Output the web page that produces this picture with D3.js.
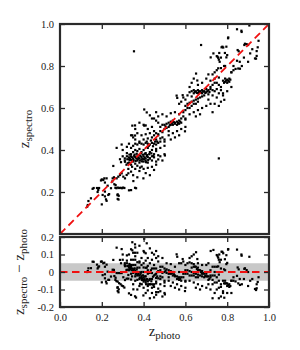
<!DOCTYPE html>
<html>
<head>
<meta charset="utf-8">
<script src="https://cdn.jsdelivr.net/npm/d3@7"></script>
<style>
  body { margin: 0; background: #fff; }
  svg text { font-family: "Liberation Serif", "Times New Roman", "DejaVu Serif", serif !important; fill: #222; }
</style>
</head>
<body>
<div id="chart"></div>
<script>
// [z_photo, z_spectro] pairs
const points = [
  // low-z tail
  [0.13,0.13],[0.133,0.138],[0.148,0.17],[0.161,0.219],[0.177,0.219],[0.187,0.219],[0.2,0.26],[0.212,0.265],
  [0.223,0.265],[0.204,0.186],[0.2,0.141],[0.22,0.165],[0.231,0.186],[0.235,0.19],[0.244,0.218],[0.252,0.265],
  [0.258,0.27],[0.271,0.265],[0.279,0.273],[0.26,0.237],[0.266,0.233],[0.27,0.218],[0.276,0.221],[0.283,0.219],
  [0.29,0.22],[0.296,0.218],[0.302,0.221],[0.308,0.219],[0.276,0.189],[0.281,0.182],[0.276,0.167],[0.287,0.281],
  [0.295,0.289],[0.303,0.273],[0.311,0.265],[0.319,0.281],[0.327,0.289],[0.359,0.22],[0.364,0.218],[0.399,0.265],
  [0.351,0.252],[0.383,0.316],[0.391,0.321],[0.327,0.31],[0.34,0.297],[0.255,0.324],[0.311,0.344],[0.324,0.337],
  [0.335,0.352],[0.18,0.2],[0.25,0.25],[0.136,0.157],[0.156,0.215],[0.183,0.21],[0.196,0.255],[0.207,0.257],
  [0.215,0.202],[0.215,0.179],[0.223,0.158],[0.215,0.245],[0.228,0.23],[0.271,0.41],[0.295,0.426],[0.265,0.22],
  [0.275,0.185],[0.28,0.164],[0.287,0.356],[0.292,0.342],[0.33,0.208],[0.34,0.209],
  // main clump around z_spectro 0.36
  [0.31,0.36],[0.32,0.37],[0.33,0.365],[0.335,0.36],[0.34,0.37],[0.345,0.365],[0.35,0.36],[0.355,0.372],
  [0.36,0.366],[0.365,0.36],[0.37,0.37],[0.375,0.364],[0.38,0.36],[0.385,0.372],[0.39,0.366],[0.395,0.358],
  [0.40,0.37],[0.405,0.364],[0.41,0.36],[0.415,0.372],[0.42,0.366],[0.43,0.36],[0.44,0.37],
  [0.33,0.34],[0.34,0.33],[0.36,0.335],[0.38,0.34],[0.40,0.345],[0.42,0.34],[0.44,0.35],[0.46,0.345],
  [0.35,0.39],[0.37,0.395],[0.39,0.39],[0.41,0.385],[0.43,0.39],[0.45,0.38],[0.47,0.375],[0.36,0.40],
  [0.38,0.405],[0.40,0.40],[0.42,0.41],[0.44,0.40],[0.46,0.395],[0.34,0.38],[0.32,0.385],[0.30,0.37],
  [0.31,0.35],[0.33,0.355],[0.35,0.345],[0.37,0.35],[0.39,0.355],[0.41,0.35],[0.43,0.36],[0.45,0.365],
  [0.47,0.355],[0.48,0.37],[0.44,0.32],[0.42,0.315],[0.40,0.31],[0.46,0.33],[0.49,0.35],[0.5,0.38],
  [0.36,0.31],[0.38,0.30],[0.41,0.29],[0.43,0.28],[0.45,0.305],[0.35,0.28],[0.37,0.27],[0.34,0.41],
  [0.35,0.42],[0.33,0.43],[0.32,0.415],[0.30,0.40],
  [0.352,0.352],[0.362,0.348],[0.372,0.356],[0.382,0.35],[0.392,0.346],[0.402,0.356],[0.412,0.342],[0.422,0.352],
  [0.357,0.378],[0.367,0.382],[0.377,0.376],[0.387,0.384],[0.397,0.378],[0.407,0.382],[0.417,0.376],[0.427,0.38],
  [0.437,0.384],[0.447,0.372],[0.332,0.378],[0.322,0.356],[0.342,0.352],[0.318,0.33],[0.345,0.32],[0.37,0.325],
  // clump around z_spectro 0.43
  [0.36,0.43],[0.37,0.426],[0.38,0.434],[0.39,0.43],[0.40,0.426],[0.41,0.434],[0.42,0.43],[0.43,0.426],
  [0.44,0.434],[0.45,0.43],[0.46,0.426],[0.47,0.434],
  [0.40,0.45],[0.42,0.455],[0.44,0.46],[0.46,0.45],[0.48,0.44],[0.38,0.44],[0.36,0.45],[0.35,0.46],
  [0.39,0.47],[0.41,0.475],[0.43,0.48],[0.45,0.49],[0.47,0.47],[0.49,0.46],[0.50,0.45],[0.42,0.50],
  [0.44,0.51],[0.40,0.52],[0.38,0.53],[0.36,0.50],[0.37,0.48],[0.34,0.47],[0.48,0.41],[0.50,0.42],
  [0.46,0.405],[0.346,0.516],[0.359,0.517],[0.346,0.47],[0.359,0.469],[0.403,0.516],[0.41,0.517],
  [0.415,0.579],[0.403,0.593],
  [0.415,0.44],[0.435,0.445],[0.455,0.44],[0.425,0.42],[0.445,0.418],[0.465,0.44],
  // 0.45 - 0.6
  [0.45,0.47],[0.46,0.48],[0.47,0.475],[0.48,0.49],[0.49,0.485],[0.50,0.50],[0.51,0.505],[0.52,0.51],
  [0.53,0.52],[0.54,0.52],[0.55,0.53],[0.56,0.535],[0.57,0.54],[0.58,0.55],[0.52,0.53],[0.53,0.535],
  [0.54,0.54],[0.55,0.525],[0.56,0.52],[0.57,0.525],[0.58,0.53],[0.51,0.525],[0.50,0.52],[0.49,0.52],
  [0.48,0.51],[0.47,0.53],[0.46,0.54],[0.45,0.55],[0.47,0.56],[0.49,0.57],[0.51,0.56],[0.53,0.575],
  [0.55,0.58],[0.57,0.57],[0.59,0.56],[0.60,0.545],[0.52,0.47],[0.54,0.48],[0.56,0.49],[0.58,0.50],
  [0.60,0.51],[0.55,0.46],[0.50,0.44],[0.53,0.45],[0.57,0.47],[0.502,0.374],[0.52,0.49],[0.48,0.455],
  [0.44,0.55],[0.43,0.565],[0.46,0.58],[0.558,0.659],[0.561,0.648],[0.587,0.661],
  [0.535,0.528],[0.545,0.532],[0.565,0.528],[0.575,0.535],[0.525,0.518],[0.505,0.512],
  // 0.6 - 0.72
  [0.59,0.58],[0.60,0.59],[0.61,0.60],[0.62,0.60],[0.63,0.61],[0.64,0.62],[0.65,0.62],[0.66,0.63],
  [0.60,0.61],[0.61,0.62],[0.62,0.625],[0.63,0.63],[0.64,0.635],[0.65,0.64],[0.66,0.645],[0.67,0.65],
  [0.68,0.655],[0.62,0.675],[0.63,0.68],[0.64,0.685],[0.65,0.68],[0.66,0.685],[0.67,0.68],[0.68,0.685],
  [0.69,0.68],[0.70,0.69],[0.71,0.685],[0.72,0.69],[0.73,0.685],[0.64,0.67],[0.66,0.67],[0.68,0.67],
  [0.70,0.675],[0.69,0.66],[0.71,0.665],[0.60,0.64],[0.58,0.63],[0.57,0.62],[0.59,0.65],[0.61,0.66],
  [0.63,0.655],[0.62,0.57],[0.64,0.58],[0.66,0.59],[0.68,0.60],[0.70,0.61],[0.65,0.56],[0.67,0.57],
  [0.60,0.55],[0.651,0.764],[0.657,0.731],[0.63,0.72],[0.64,0.74],[0.62,0.70],[0.598,0.489],[0.66,0.71],
  [0.68,0.72],
  [0.655,0.672],[0.665,0.676],[0.675,0.674],[0.685,0.678],[0.695,0.672],[0.705,0.68],[0.715,0.676],[0.645,0.676],
  // 0.7 - 0.82
  [0.72,0.70],[0.73,0.71],[0.74,0.72],[0.75,0.72],[0.76,0.71],[0.77,0.70],[0.72,0.73],[0.74,0.74],
  [0.76,0.745],[0.78,0.73],[0.79,0.725],[0.795,0.73],[0.80,0.735],[0.805,0.73],[0.81,0.725],[0.80,0.72],
  [0.79,0.74],[0.81,0.74],[0.815,0.735],[0.785,0.72],[0.74,0.68],[0.76,0.67],[0.78,0.66],[0.73,0.66],
  [0.75,0.65],[0.77,0.63],[0.71,0.64],[0.72,0.62],[0.74,0.62],[0.76,0.61],[0.73,0.58],[0.78,0.67],
  [0.80,0.68],[0.82,0.70],[0.75,0.69],[0.77,0.685],[0.721,0.841],[0.734,0.86],[0.75,0.847],[0.757,0.839],
  [0.773,0.889],[0.781,0.888],[0.805,0.936],[0.76,0.83],[0.77,0.84],[0.73,0.76],[0.75,0.78],[0.77,0.79],
  [0.79,0.80],[0.74,0.77],[0.786,0.639],[0.82,0.77],[0.83,0.80],[0.70,0.74],[0.71,0.76],
  // high-z end
  [0.847,0.975],[0.868,0.968],[0.804,0.932],[0.90,0.90],[0.777,0.892],[0.796,0.892],[0.946,0.889],[0.882,0.90],
  [0.762,0.862],[0.789,0.862],[0.80,0.852],[0.85,0.876],[0.855,0.87],[0.754,0.844],[0.796,0.841],[0.933,0.836],
  [0.764,0.82],[0.847,0.825],[0.785,0.80],[0.757,0.789],[0.84,0.786],[0.869,0.962],[0.906,0.993],[0.885,0.906],
  [0.893,0.904],[0.941,0.848],[0.938,0.835],[0.941,0.871],[0.853,0.788],[0.861,0.787],[0.82,0.77],[0.83,0.78],
  [0.86,0.82],[0.88,0.84],[0.91,0.86],[0.87,0.80],[0.90,0.82],[0.92,0.88],[0.95,0.92],
  // outliers
  [0.354,0.87],[0.675,0.90],[0.76,0.36]
]

const xTicks = [0, 0.2, 0.4, 0.6, 0.8, 1.0]
const topTicks = [0.2, 0.4, 0.6, 0.8, 1.0]
const bottomTicks = [-0.2, -0.1, 0, 0.1, 0.2]
const bottomTickLabels = ['-0.2', '-0.1', '0', '0.1', '0.2']
const band = [-0.05, 0.05]

const width = 300, height = 350
const axisColor = '#2a2a2a'
const serif = '"Liberation Serif", "Times New Roman", serif'

const svg = d3.select('#chart').append('svg')
  .attr('width', width)
  .attr('height', height)
  .attr('font-family', serif)

const x = d3.scaleLinear().domain([0, 1]).range([60, 269])
const yTop = d3.scaleLinear().domain([0, 1]).range([234, 24])
const yBot = d3.scaleLinear().domain([-0.2, 0.2]).range([307, 237])

const defs = svg.append('defs')
defs.append('clipPath').attr('id', 'clipTop').append('rect')
  .attr('x', 60).attr('y', 24).attr('width', 209).attr('height', 210)
defs.append('clipPath').attr('id', 'clipBot').append('rect')
  .attr('x', 60).attr('y', 237).attr('width', 209).attr('height', 70)

// ---- top panel ----
const topPanel = svg.append('g')
const topPlot = topPanel.append('g').attr('clip-path', 'url(#clipTop)')

topPlot.selectAll('rect.pt')
  .data(points)
  .enter()
  .append('rect')
  .attr('class', 'pt')
  .attr('x', d => x(d[0]) - 1.1)
  .attr('y', d => yTop(d[1]) - 1.1)
  .attr('width', 2.2)
  .attr('height', 2.2)
  .attr('fill', '#000')

topPlot.append('line')
  .attr('x1', x(0)).attr('y1', yTop(0))
  .attr('x2', x(1)).attr('y2', yTop(1))
  .attr('stroke', '#f01010')
  .attr('stroke-width', 1.8)
  .attr('stroke-dasharray', '7.5,4.5')

// ---- bottom panel ----
const botPanel = svg.append('g')
const botPlot = botPanel.append('g').attr('clip-path', 'url(#clipBot)')

botPlot.append('rect')
  .attr('x', x(0))
  .attr('y', yBot(band[1]))
  .attr('width', x(1) - x(0))
  .attr('height', yBot(band[0]) - yBot(band[1]))
  .attr('fill', '#c8c8c8')

botPlot.selectAll('rect.pt')
  .data(points)
  .enter()
  .append('rect')
  .attr('class', 'pt')
  .attr('x', d => x(d[0]) - 1.1)
  .attr('y', d => yBot(d[1] - d[0]) - 1.1)
  .attr('width', 2.2)
  .attr('height', 2.2)
  .attr('fill', '#000')

botPlot.append('line')
  .attr('x1', x(0)).attr('y1', yBot(0))
  .attr('x2', x(1)).attr('y2', yBot(0))
  .attr('stroke', '#f01010')
  .attr('stroke-width', 1.8)
  .attr('stroke-dasharray', '7.5,4.5')

// ---- axes ----
function styleAxis(g) {
  g.attr('font-family', serif)
  g.select('.domain').remove()
  g.selectAll('.tick line').attr('stroke', axisColor).attr('stroke-width', 1.3)
  g.selectAll('.tick text').attr('font-size', 10.5).attr('fill', '#222')
}

const blank = () => ''

// top panel axes
topPanel.append('g').attr('transform', `translate(0,${yTop(0)})`)
  .call(d3.axisBottom(x).tickValues(xTicks.slice(1, -1)).tickSize(-5).tickFormat(blank))
  .call(styleAxis)
topPanel.append('g').attr('transform', `translate(0,${yTop(1)})`)
  .call(d3.axisTop(x).tickValues(xTicks.slice(1, -1)).tickSize(-5).tickFormat(blank))
  .call(styleAxis)
topPanel.append('g').attr('transform', `translate(${x(0)},0)`)
  .call(d3.axisLeft(yTop).tickValues(topTicks).tickSize(-5).tickPadding(6).tickFormat(d3.format('.1f')))
  .call(styleAxis)
topPanel.append('g').attr('transform', `translate(${x(1)},0)`)
  .call(d3.axisRight(yTop).tickValues(topTicks).tickSize(-5).tickFormat(blank))
  .call(styleAxis)

// bottom panel axes
botPanel.append('g').attr('transform', `translate(0,${yBot(-0.2)})`)
  .call(d3.axisBottom(x).tickValues(xTicks).tickSize(-5).tickPadding(6.5).tickFormat(d3.format('.1f')))
  .call(styleAxis)
botPanel.append('g').attr('transform', `translate(0,${yBot(0.2)})`)
  .call(d3.axisTop(x).tickValues(xTicks.slice(1, -1)).tickSize(-5).tickFormat(blank))
  .call(styleAxis)
botPanel.append('g').attr('transform', `translate(${x(0)},0)`)
  .call(d3.axisLeft(yBot).tickValues(bottomTicks).tickSize(-5).tickPadding(6)
    .tickFormat((d, i) => bottomTickLabels[i]))
  .call(styleAxis)
botPanel.append('g').attr('transform', `translate(${x(1)},0)`)
  .call(d3.axisRight(yBot).tickValues(bottomTicks).tickSize(-5).tickFormat(blank))
  .call(styleAxis)

// frames
topPanel.append('rect')
  .attr('x', x(0)).attr('y', yTop(1))
  .attr('width', x(1) - x(0)).attr('height', yTop(0) - yTop(1))
  .attr('fill', 'none').attr('stroke', axisColor).attr('stroke-width', 2.2)
botPanel.append('rect')
  .attr('x', x(0)).attr('y', yBot(0.2))
  .attr('width', x(1) - x(0)).attr('height', yBot(-0.2) - yBot(0.2))
  .attr('fill', 'none').attr('stroke', axisColor).attr('stroke-width', 2.2)

// ---- axis titles ----
function zLabel(sel, parts) {
  parts.forEach(p => {
    sel.append('tspan')
      .attr('font-size', p.sub ? 11 : 15)
      .attr('dy', p.dy || 0)
      .text(p.t)
  })
}

const xTitle = svg.append('text')
  .attr('x', (x(0) + x(1)) / 2)
  .attr('y', 336)
  .attr('text-anchor', 'middle')
zLabel(xTitle, [{ t: 'z' }, { t: 'photo', sub: true, dy: 3 }])

const yTitleTop = svg.append('text')
  .attr('transform', `translate(29,${(yTop(0) + yTop(1)) / 2}) rotate(-90)`)
  .attr('text-anchor', 'middle')
zLabel(yTitleTop, [{ t: 'z' }, { t: 'spectro', sub: true, dy: 3 }])

const yTitleBot = svg.append('text')
  .attr('transform', `translate(24,${(yBot(-0.2) + yBot(0.2)) / 2}) rotate(-90)`)
  .attr('text-anchor', 'middle')
zLabel(yTitleBot, [
  { t: 'z' }, { t: 'spectro', sub: true, dy: 3 },
  { t: ' \u2212 ', dy: -3 }, { t: 'z' }, { t: 'photo', sub: true, dy: 3 }
])
</script>
</body>
</html>
